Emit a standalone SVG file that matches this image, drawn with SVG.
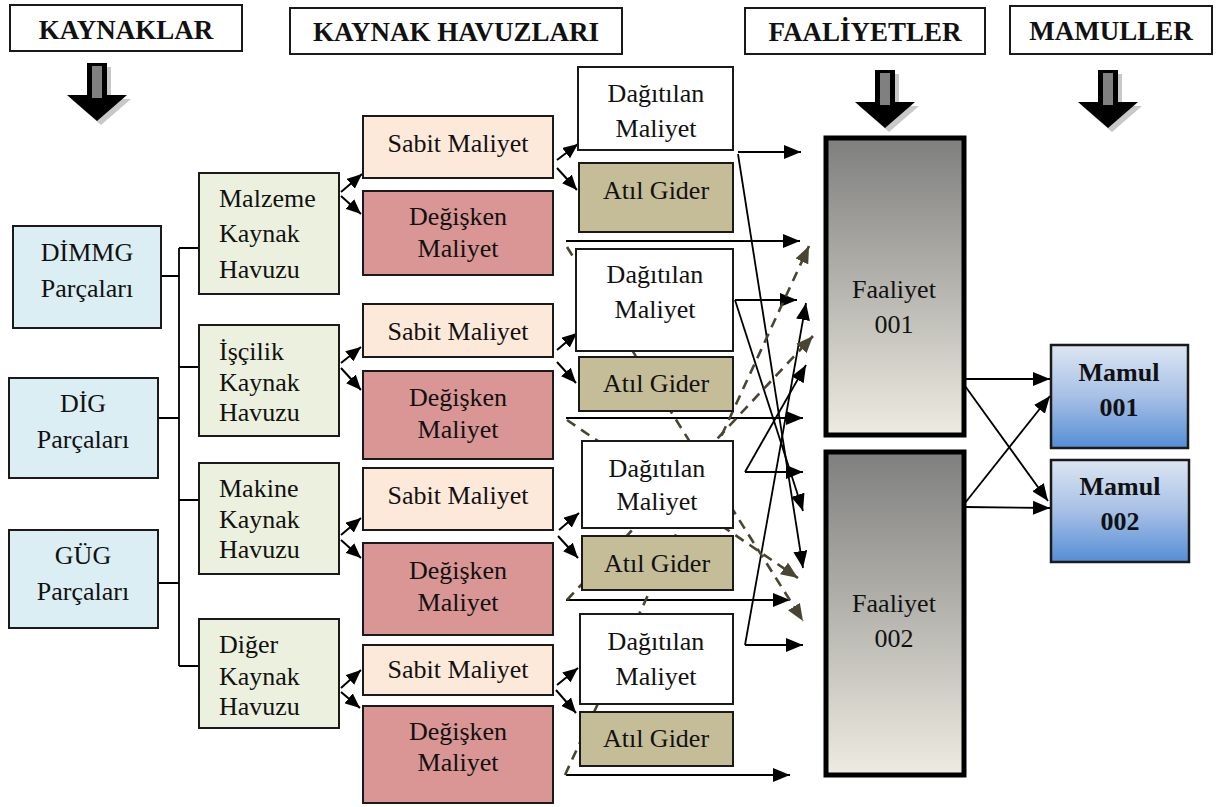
<svg xmlns="http://www.w3.org/2000/svg" width="1225" height="807" viewBox="0 0 1225 807">
<style>
text{font-family:"Liberation Serif","Times New Roman",serif;font-size:26px;fill:#111}
.h{font-weight:bold;font-size:27px;text-anchor:middle}
.c{text-anchor:middle}
.b{font-weight:bold}
.box{stroke:#1a1a1a;stroke-width:2}
.hdr{fill:#fff;stroke:#1a1a1a;stroke-width:2}
.blue{fill:#DBEEF3}
.pool{fill:#EBF1DE}
.sab{fill:#FDE9D9}
.deg{fill:#D99694}
.dag{fill:#fff}
.atil{fill:#C4BD97}
.fa{fill:url(#gFa);stroke:#000;stroke-width:5}
.ma{fill:url(#gMa);stroke:#1a1a1a;stroke-width:2.5}
.ln{fill:none;stroke:#000;stroke-width:1.8}
.sa{fill:none;stroke:#000;stroke-width:2;marker-end:url(#sm)}
.la{fill:none;stroke:#000;stroke-width:1.8;marker-end:url(#ah)}
.da{fill:none;stroke:#4A4530;stroke-width:2.6;stroke-dasharray:10 7;marker-end:url(#ahd)}
</style>
<defs>
<linearGradient id="gFa" x1="0" y1="0" x2="0" y2="1">
<stop offset="0" stop-color="#7F7F7F"/>
<stop offset="0.5" stop-color="#B5B4AE"/>
<stop offset="1" stop-color="#EEECE1"/>
</linearGradient>
<linearGradient id="gMa" x1="0" y1="0" x2="0" y2="1">
<stop offset="0" stop-color="#DCE6F2"/>
<stop offset="0.5" stop-color="#A7C0E6"/>
<stop offset="1" stop-color="#558ED5"/>
</linearGradient>
<marker id="ah" markerUnits="userSpaceOnUse" markerWidth="17" markerHeight="14" viewBox="0 0 17 14" refX="17" refY="7" orient="auto">
<path d="M0,0 L17,7 L0,14 z" fill="#000"/>
</marker>
<marker id="ahd" markerUnits="userSpaceOnUse" markerWidth="17" markerHeight="14" viewBox="0 0 17 14" refX="17" refY="7" orient="auto">
<path d="M0,0 L17,7 L0,14 z" fill="#4A4530"/>
</marker>
<marker id="sm" markerUnits="userSpaceOnUse" markerWidth="15" markerHeight="13" viewBox="0 0 15 13" refX="15" refY="6.5" orient="auto">
<path d="M0,0 L15,6.5 L0,13 z" fill="#000"/>
</marker>
<g id="blk">
<path d="M-10,0 H10 V32 H30 L0,58 L-30,32 H-10 Z" fill="#000"/>
<rect x="-5" y="3" width="10" height="32" fill="#808080"/>
</g>
<path id="blkS" d="M-10,0 H10 V32 H30 L0,58 L-30,32 H-10 Z" fill="#C8C8C8"/>
</defs>

<g id="headers">
<g id="h-kaynaklar"><rect class="hdr" x="10" y="5" width="232" height="46"/><text class="h" x="126" y="39">KAYNAKLAR</text></g>
<g id="h-havuzlar"><rect class="hdr" x="290" y="8" width="332" height="46"/><text class="h" x="456" y="41">KAYNAK HAVUZLARI</text></g>
<g id="h-faaliyetler"><rect class="hdr" x="745" y="8" width="240" height="46"/><text class="h" x="865" y="41">FAALİYETLER</text></g>
<g id="h-mamuller"><rect class="hdr" x="1010" y="6" width="202" height="48"/><text class="h" x="1111" y="40">MAMULLER</text></g>
</g>

<g id="block-arrows">
<use href="#blkS" x="101" y="67"/><use href="#blk" x="97" y="63"/>
<use href="#blkS" x="889" y="74"/><use href="#blk" x="885" y="70"/>
<use href="#blkS" x="1112" y="74"/><use href="#blk" x="1108" y="70"/>
</g>

<g id="connectors">
<path class="ln" d="M161,276 H179 M158,418 H179 M158,583 H179 M179,248 V666 M179,248 H199 M179,367 H199 M179,500 H199 M179,666 H199"/>
<path class="sa" d="M341,192 L362,174"/>
<path class="sa" d="M341,196 L361,214"/>
<path class="sa" d="M341,363 L361,347"/>
<path class="sa" d="M341,368 L361,390"/>
<path class="sa" d="M341,535 L361,518"/>
<path class="sa" d="M341,540 L361,558"/>
<path class="sa" d="M341,688 L361,670"/>
<path class="sa" d="M341,692 L360,708"/>
<path class="sa" d="M557,160 L578,144"/>
<path class="sa" d="M557,168 L577,190"/>
<path class="sa" d="M557,350 L577,333"/>
<path class="sa" d="M557,362 L576,383"/>
<path class="sa" d="M559,530 L579,513"/>
<path class="sa" d="M558,536 L578,558"/>
<path class="sa" d="M557,685 L578,668"/>
<path class="sa" d="M556,690 L576,713"/>
<path class="la" d="M738,152 H801"/>
<path class="la" d="M738,154 L803,568"/>
<path class="la" d="M566,241 H800"/>
<path class="la" d="M735,300 H797"/>
<path class="la" d="M735,300 L803,511"/>
<path class="la" d="M566,418 H803"/>
<path class="la" d="M745,472 H803"/>
<path class="la" d="M745,472 L806,365"/>
<path class="la" d="M566,600 H790"/>
<path class="la" d="M745,645 H803"/>
<path class="la" d="M745,645 L806,303"/>
<path class="la" d="M566,775 H790"/>
<path class="da" d="M567,247 L803,621"/>
<path class="da" d="M567,420 L798,578"/>
<path class="da" d="M567,600 L813,336"/>
<path class="da" d="M565,775 L809,246"/>
<path class="la" d="M960,379 H1050"/>
<path class="la" d="M960,379 L1048,501"/>
<path class="la" d="M965,507 L1050,508"/>
<path class="la" d="M965,503 L1050,396"/>
</g>

<g id="n-dimmg"><rect class="box blue" x="13" y="226" width="148" height="102"/><text class="c" x="87" y="261">DİMMG</text><text class="c" x="87" y="297">Parçaları</text></g>
<g id="n-dig"><rect class="box blue" x="9" y="378" width="149" height="100"/><text class="c" x="83" y="412">DİG</text><text class="c" x="83" y="448">Parçaları</text></g>
<g id="n-gug"><rect class="box blue" x="9" y="530" width="149" height="98"/><text class="c" x="83" y="564">GÜG</text><text class="c" x="83" y="600">Parçaları</text></g>

<g id="n-malzeme"><rect class="box pool" x="199" y="173" width="140" height="121"/><text x="219" y="207">Malzeme</text><text x="219" y="242">Kaynak</text><text x="219" y="278">Havuzu</text></g>
<g id="n-iscilik"><rect class="box pool" x="199" y="325" width="140" height="111"/><text x="219" y="360">İşçilik</text><text x="219" y="391">Kaynak</text><text x="219" y="421">Havuzu</text></g>
<g id="n-makine"><rect class="box pool" x="199" y="463" width="140" height="111"/><text x="219" y="497">Makine</text><text x="219" y="528">Kaynak</text><text x="219" y="558">Havuzu</text></g>
<g id="n-diger"><rect class="box pool" x="199" y="619" width="140" height="109"/><text x="219" y="653">Diğer</text><text x="219" y="685">Kaynak</text><text x="219" y="715">Havuzu</text></g>

<g id="n-sabit1"><rect class="box sab" x="363" y="116" width="190" height="62"/><text class="c" x="458" y="152">Sabit Maliyet</text></g>
<g id="n-degisken1"><rect class="box deg" x="363" y="191" width="190" height="84"/><text class="c" x="458" y="225">Değişken</text><text class="c" x="458" y="257">Maliyet</text></g>
<g id="n-sabit2"><rect class="box sab" x="363" y="304" width="190" height="53"/><text class="c" x="458" y="340">Sabit Maliyet</text></g>
<g id="n-degisken2"><rect class="box deg" x="363" y="371" width="190" height="88"/><text class="c" x="458" y="406">Değişken</text><text class="c" x="458" y="438">Maliyet</text></g>
<g id="n-sabit3"><rect class="box sab" x="363" y="468" width="190" height="62"/><text class="c" x="458" y="504">Sabit Maliyet</text></g>
<g id="n-degisken3"><rect class="box deg" x="363" y="543" width="190" height="92"/><text class="c" x="458" y="579">Değişken</text><text class="c" x="458" y="611">Maliyet</text></g>
<g id="n-sabit4"><rect class="box sab" x="363" y="645" width="190" height="50"/><text class="c" x="458" y="678">Sabit Maliyet</text></g>
<g id="n-degisken4"><rect class="box deg" x="363" y="706" width="190" height="97"/><text class="c" x="458" y="740">Değişken</text><text class="c" x="458" y="771">Maliyet</text></g>

<g id="n-dagitilan1"><rect class="box dag" x="578" y="67" width="155" height="83"/><text class="c" x="656" y="102">Dağıtılan</text><text class="c" x="656" y="137">Maliyet</text></g>
<g id="n-atil1"><rect class="box atil" x="579" y="163" width="154" height="69"/><text class="c" x="656" y="199">Atıl Gider</text></g>
<g id="n-dagitilan2"><rect class="box dag" x="576" y="249" width="157" height="102"/><text class="c" x="655" y="283">Dağıtılan</text><text class="c" x="655" y="318">Maliyet</text></g>
<g id="n-atil2"><rect class="box atil" x="579" y="357" width="154" height="54"/><text class="c" x="656" y="392">Atıl Gider</text></g>
<g id="n-dagitilan3"><rect class="box dag" x="582" y="441" width="151" height="87"/><text class="c" x="657" y="477">Dağıtılan</text><text class="c" x="657" y="510">Maliyet</text></g>
<g id="n-atil3"><rect class="box atil" x="582" y="536" width="151" height="54"/><text class="c" x="657" y="572">Atıl Gider</text></g>
<g id="n-dagitilan4"><rect class="box dag" x="580" y="614" width="153" height="90"/><text class="c" x="656" y="650">Dağıtılan</text><text class="c" x="656" y="685">Maliyet</text></g>
<g id="n-atil4"><rect class="box atil" x="580" y="712" width="153" height="54"/><text class="c" x="656" y="747">Atıl Gider</text></g>

<g id="n-faaliyet001"><rect class="fa" x="826" y="138" width="138" height="297"/><text class="c" x="894" y="298">Faaliyet</text><text class="c" x="894" y="333">001</text></g>
<g id="n-faaliyet002"><rect class="fa" x="826" y="452" width="138" height="323"/><text class="c" x="894" y="612">Faaliyet</text><text class="c" x="894" y="647">002</text></g>

<g id="n-mamul001"><rect class="ma" x="1051" y="345" width="137" height="103"/><text class="c b" x="1119" y="381">Mamul</text><text class="c b" x="1119" y="416">001</text></g>
<g id="n-mamul002"><rect class="ma" x="1051" y="460" width="138" height="102"/><text class="c b" x="1120" y="495">Mamul</text><text class="c b" x="1120" y="530">002</text></g>
</svg>
